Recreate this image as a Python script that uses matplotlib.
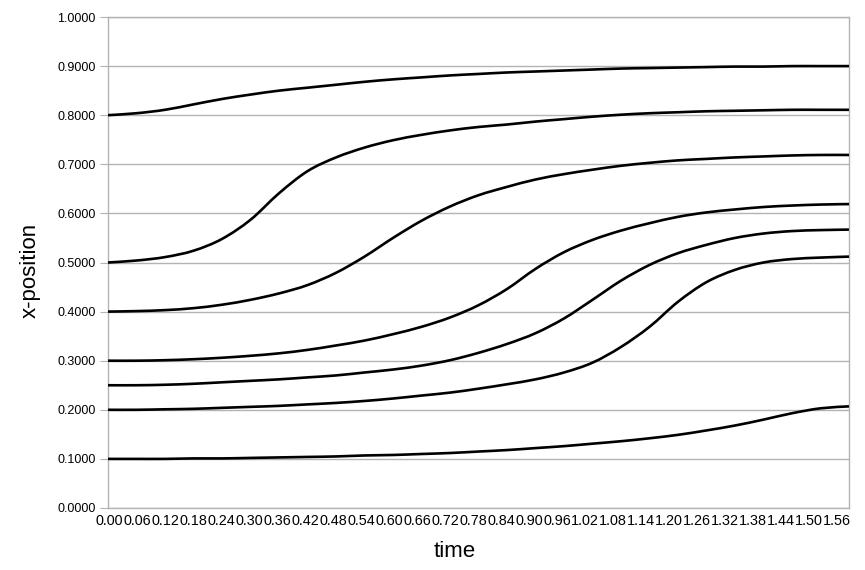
import matplotlib
matplotlib.use("Agg")
import matplotlib.pyplot as plt
from matplotlib.path import Path
from matplotlib.patches import PathPatch
import matplotlib.transforms as mtransforms

plt.rcParams['font.family'] = ['Liberation Sans', 'DejaVu Sans']

time_labels = ["0.00", "0.06", "0.12", "0.18", "0.24", "0.30", "0.36", "0.42", "0.48",
               "0.54", "0.60", "0.66", "0.72", "0.78", "0.84", "0.90", "0.96", "1.02",
               "1.08", "1.14", "1.20", "1.26", "1.32", "1.38", "1.44", "1.50", "1.56"]
time = [float(s) for s in time_labels]

s1 = [0.800, 0.804, 0.811, 0.822, 0.833, 0.842, 0.850, 0.856, 0.862, 0.868, 0.873, 0.877, 0.881,
      0.884, 0.887, 0.889, 0.891, 0.893, 0.895, 0.896, 0.897, 0.898, 0.899, 0.899, 0.900, 0.900, 0.900]
s2 = [0.500, 0.504, 0.511, 0.524, 0.548, 0.587, 0.641, 0.686, 0.714, 0.734, 0.749, 0.760, 0.769,
      0.776, 0.781, 0.787, 0.792, 0.797, 0.801, 0.804, 0.806, 0.808, 0.809, 0.810, 0.811, 0.811, 0.811]
s3 = [0.400, 0.401, 0.403, 0.407, 0.414, 0.424, 0.437, 0.454, 0.479, 0.512, 0.550, 0.585, 0.614,
      0.637, 0.654, 0.669, 0.680, 0.689, 0.697, 0.703, 0.708, 0.711, 0.714, 0.716, 0.718, 0.719, 0.719]
s4 = [0.300, 0.300, 0.301, 0.303, 0.306, 0.310, 0.315, 0.322, 0.331, 0.341, 0.354, 0.369, 0.388,
      0.413, 0.446, 0.487, 0.521, 0.546, 0.565, 0.580, 0.593, 0.602, 0.608, 0.613, 0.616, 0.618, 0.619]
s5 = [0.250, 0.250, 0.251, 0.253, 0.256, 0.259, 0.262, 0.266, 0.270, 0.276, 0.282, 0.290, 0.301,
      0.316, 0.334, 0.356, 0.386, 0.424, 0.463, 0.495, 0.519, 0.536, 0.550, 0.559, 0.564, 0.566, 0.567]
s6 = [0.200, 0.200, 0.201, 0.202, 0.204, 0.206, 0.208, 0.211, 0.214, 0.218, 0.223, 0.229, 0.235,
      0.243, 0.252, 0.262, 0.276, 0.296, 0.328, 0.369, 0.420, 0.460, 0.485, 0.500, 0.507, 0.510, 0.512]
s7 = [0.100, 0.100, 0.100, 0.101, 0.101, 0.102, 0.103, 0.104, 0.105, 0.107, 0.108, 0.110, 0.112,
      0.115, 0.118, 0.122, 0.126, 0.131, 0.136, 0.142, 0.149, 0.158, 0.168, 0.180, 0.193, 0.203, 0.207]
series = [s1, s2, s3, s4, s5, s6, s7]

y_ticks = [0.0, 0.1, 0.2, 0.3, 0.4, 0.5, 0.6, 0.7, 0.8, 0.9, 1.0]


def smooth_path(xs, ys):
    """Cubic (Catmull-Rom style) Bezier path through the data points, like a spline line type."""
    n = len(xs)
    verts = [(xs[0], ys[0])]
    codes = [Path.MOVETO]
    for i in range(n - 1):
        i0 = max(i - 1, 0)
        i3 = min(i + 2, n - 1)
        c1 = (xs[i] + (xs[i + 1] - xs[i0]) / 6.0, ys[i] + (ys[i + 1] - ys[i0]) / 6.0)
        c2 = (xs[i + 1] - (xs[i3] - xs[i]) / 6.0, ys[i + 1] - (ys[i3] - ys[i]) / 6.0)
        verts += [c1, c2, (xs[i + 1], ys[i + 1])]
        codes += [Path.CURVE4, Path.CURVE4, Path.CURVE4]
    return Path(verts, codes)


fig = plt.figure(figsize=(8.65, 5.70), dpi=100)
ax = fig.add_axes([108/865, 1 - 508/570, (849-108)/865, (508-17)/570])

grid_c = '#b3b3b3'
for s in series:
    patch = PathPatch(smooth_path(time, s), facecolor='none', edgecolor='black',
                      lw=1.9, joinstyle='round', capstyle='butt', zorder=3)
    ax.add_patch(patch)

ax.set_xlim(time[0], time[-1])
ax.set_ylim(0, 1)
ax.set_yticks(y_ticks)
ax.set_yticklabels([f"{v:.4f}" for v in y_ticks], fontsize=9)
ax.set_xticks(time)
ax.set_xticklabels(time_labels, fontsize=10.4)
ax.yaxis.grid(True, color=grid_c, lw=1)
ax.set_axisbelow(True)
for sp in ax.spines.values():
    sp.set_color(grid_c)
    sp.set_linewidth(1)
ax.tick_params(axis='y', length=6, color=grid_c, pad=3, labelcolor='black')
ax.tick_params(axis='x', length=0, pad=4, labelcolor='black')

# category labels are packed slightly tighter than the data points (as in the original)
n_lab = len(time_labels)
for i, lab in enumerate(ax.get_xticklabels()):
    shift = -13.0 * i / (n_lab - 1) + 1.0
    lab.set_transform(lab.get_transform() +
                      mtransforms.ScaledTranslation(shift / 100.0, 0, fig.dpi_scale_trans))

ax.set_xlabel('time', fontsize=16)
ax.set_ylabel('x-position', fontsize=16)
ax.xaxis.set_label_coords((455 - 108) / 741, (508 - 541) / 491)
ax.yaxis.set_label_coords((41 - 108) / 741, (508 - 270) / 491)

fig.savefig('out.png', dpi=100)
